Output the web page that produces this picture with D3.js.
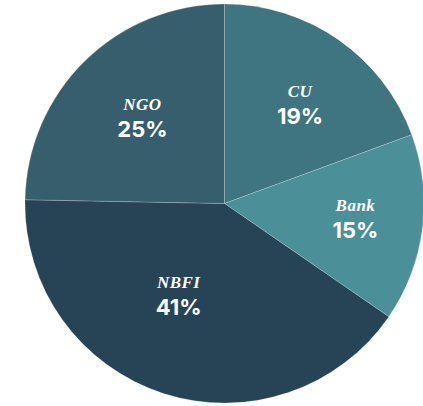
<!DOCTYPE html>
<meta charset="utf-8">
<style>
body { margin: 0; background: #fff; }
.name { font-family: 'Liberation Serif', 'DejaVu Serif', serif; font-style: italic; font-weight: bold; font-size: 17px; fill: #fff; letter-spacing: 0.5px; }
.pct { font-family: Inter, 'Open Sans', sans-serif; font-weight: 700; font-size: 22px; fill: #fff; }
</style>
<body>
<div id="chart"></div>
<script src="https://cdn.jsdelivr.net/npm/d3@7"></script>
<script>
// slices clockwise from 12 o'clock
var categories = ['CU', 'Bank', 'NBFI', 'NGO']
var values = [19.4, 15.2, 40.7, 24.7]
var pctLabels = ['19%', '15%', '41%', '25%']
var colors = ['#3f7580', '#4b8f98', '#264456', '#365e6c']
// label radius and small nudges so labels sit where the original put them
var labelR = [125, 131, 104, 120]
var labelNudge = [[4, 2], [1, -3], [-14, -9], [2, -2]]

var width = 423
var height = 406
var cx = 224.5, cy = 203.5, radius = 199.5

var svg = d3.select('#chart').append('svg')
    .attr('width', width)
    .attr('height', height)

var g = svg.append('g').attr('transform', 'translate(' + cx + ',' + cy + ')')

var pie = d3.pie().sort(null).value(function (d) { return d.value })
var data = categories.map(function (c, i) {
  return { name: c, value: values[i], label: pctLabels[i], color: colors[i], lr: labelR[i], nudge: labelNudge[i] }
})
var arcs = pie(data)

var arc = d3.arc().innerRadius(0).outerRadius(radius)

g.selectAll('path.slice')
  .data(arcs)
  .enter().append('path')
  .attr('class', 'slice')
  .attr('d', arc)
  .attr('fill', function (d) { return d.data.color })
  .attr('stroke', 'rgba(255,255,255,0.2)')
  .attr('stroke-width', 1)

var labels = g.selectAll('g.lab')
  .data(arcs)
  .enter().append('g')
  .attr('class', 'lab')
  .attr('transform', function (d) {
    var c = d3.arc().innerRadius(d.data.lr).outerRadius(d.data.lr).centroid(d)
    return 'translate(' + (c[0] + d.data.nudge[0]) + ',' + (c[1] + d.data.nudge[1]) + ')'
  })

labels.append('text')
  .attr('class', 'name')
  .attr('text-anchor', 'middle')
  .attr('y', -6)
  .text(function (d) { return d.data.name })

labels.append('text')
  .attr('class', 'pct')
  .attr('text-anchor', 'middle')
  .attr('y', 21)
  .text(function (d) { return d.data.label })
</script>
</body>
